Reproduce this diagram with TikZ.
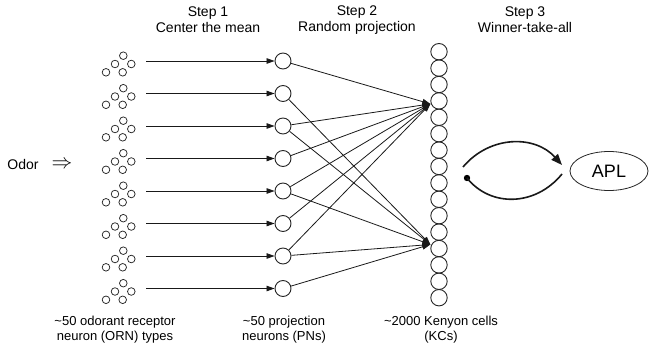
\documentclass[tikz,border=0pt]{standalone}
\usepackage{fontspec}
\setmainfont{Liberation Sans}
\usetikzlibrary{arrows.meta,shapes.geometric,calc}
\begin{document}
\begin{tikzpicture}[x=1pt,y=-1pt,
  toplbl/.style={font=\fontsize{14}{16}\selectfont, align=center, inner sep=0pt},
  botlbl/.style={font=\fontsize{13}{15}\selectfont, align=center, inner sep=0pt},
  orn/.style={circle, draw=black!85, line width=0.75pt, minimum size=7.6pt, inner sep=0pt},
  pn/.style={circle, draw=black!85, line width=0.9pt, minimum size=16pt, inner sep=0pt},
  kc/.style={circle, draw=black!85, line width=0.9pt, minimum size=16.4pt, inner sep=0pt},
  conn/.style={draw=black!90, line width=0.8pt, -{Triangle[length=8pt,width=5.5pt]}},
  wta/.style={draw=black!90, line width=1.6pt},
  dotnode/.style={circle, fill=black, inner sep=0pt, minimum size=6.4pt}]
\useasboundingbox (0,0) rectangle (649,348);

% labels
\node[toplbl] (s1) at (208,20) {Step 1\\Center the mean};
\node[toplbl] (s2) at (357,20) {Step 2\\Random projection};
\node[toplbl] (s3) at (525,20) {Step 3\\Winner-take-all};

\node[botlbl] (l1) at (115,330) {\textasciitilde50 odorant receptor\\neuron (ORN) types};
\node[botlbl] (l2) at (284,330) {\textasciitilde50 projection\\neurons (PNs)};
\node[botlbl] (l3) at (441,330) {\textasciitilde2000 Kenyon cells\\(KCs)};

\node[font=\fontsize{14}{16}\selectfont, inner sep=0pt] (odor) at (23,164) {Odor};
\node[font=\fontsize{22}{22}\selectfont, inner sep=0pt] (imp) at (62,165) {$\Rightarrow$};

% ORN clusters, PNs
\foreach \i in {1,...,8} {
  \pgfmathsetmacro\yy{61+32.5*(\i-1)}
  \node[orn] (o\i-a) at (123.3,\yy-5.3) {};
  \node[orn] (o\i-b) at (115,\yy+3) {};
  \node[orn] (o\i-c) at (131.3,\yy+3) {};
  \node[orn] (o\i-d) at (106,\yy+11.3) {};
  \node[orn] (o\i-e) at (122.7,\yy+11.3) {};
  \coordinate (src\i) at (146,\yy);
  \node[pn] (p\i) at (283,\yy) {};
  \draw[conn] (src\i) -- (p\i);
}

% Kenyon cells
\foreach \i in {1,...,16} {
  \node[kc] (k\i) at (439,{51.7+16.4*(\i-1)}) {};
}
\coordinate (ut) at ([yshift=-3pt]k4.west);
\coordinate (lt) at ([yshift=4pt]k13.west);

\foreach \p in {1,3,4,5,6,7} { \draw[conn] (p\p) -- (ut); }
\foreach \p in {2,3,5,7,8} { \draw[conn] (p\p) -- (lt); }

% winner-take-all loop and APL
\node[ellipse, draw=black!85, line width=0.8pt, minimum width=78pt, minimum height=39pt,
      inner sep=0pt, font=\fontsize{18}{18}\selectfont] (apl) at (609,171) {APL};
\coordinate (wa) at (463,167);
\coordinate (wb) at (562,165);
\coordinate (wc) at (562,174);
\node[dotnode] (dot) at (467,178) {};
\draw[wta, -{Triangle[length=11pt,width=8.5pt]}] (wa) .. controls (490,135) and (535,135) .. (wb);
\draw[wta] (dot.center) .. controls (490,207) and (535,207) .. (wc);
\end{tikzpicture}
\end{document}
